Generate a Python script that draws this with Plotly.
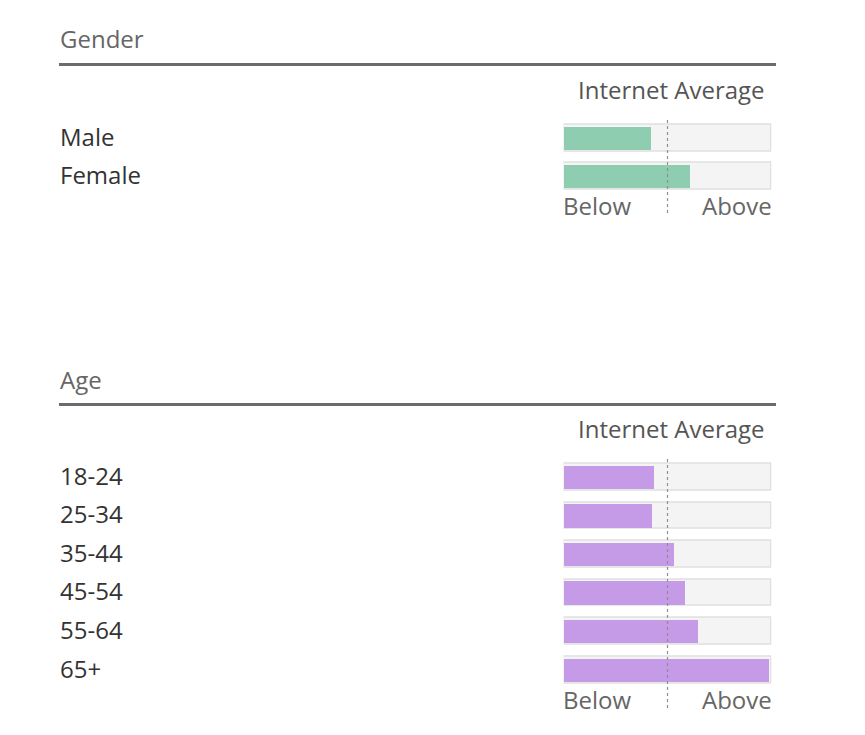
import plotly.graph_objects as go

# ---- data ----
gender_labels = ["Male", "Female"]
gender_values = [84, 121]          # index vs internet average (100 = average)
age_labels = ["18-24", "25-34", "35-44", "45-54", "55-64", "65+"]
age_values = [87, 85, 106, 116, 129, 197]
scale_max = 200
average = 100

W, H = 865, 735
FONT = "Open Sans"
FS = 24
def px(p): return p / W
def py(p): return 1 - p / H

fig = go.Figure()

GREEN = "#8fcdb1"
PURPLE = "#c59be8"
TRACK = "#f4f4f4"
TRACK_LINE = "#e0e0e0"

def add_panel(labels, values, color, xa, ya):
    idx = list(range(len(labels)))
    fig.add_trace(go.Bar(y=idx, x=[scale_max] * len(labels), orientation="h",
                         marker=dict(color=TRACK, line=dict(color=TRACK_LINE, width=1.5)),
                         width=0.69, xaxis=xa, yaxis=ya, hoverinfo="skip", showlegend=False))
    fig.add_trace(go.Bar(y=idx, x=values, orientation="h",
                         marker=dict(color=color, line=dict(width=0)),
                         width=0.61, xaxis=xa, yaxis=ya, hoverinfo="skip", showlegend=False))

add_panel(gender_labels, gender_values, GREEN, "x", "y")
add_panel(age_labels, age_values, PURPLE, "x2", "y2")

ax = dict(range=[0, scale_max], domain=[px(563.5), px(771.5)], visible=False, fixedrange=True)
fig.update_layout(
    width=W, height=H, margin=dict(l=0, r=0, t=0, b=0),
    paper_bgcolor="white", plot_bgcolor="rgba(0,0,0,0)",
    barmode="overlay", bargap=0,
    xaxis=dict(**ax, anchor="y"),
    yaxis=dict(domain=[py(195.75), py(118.75)], range=[1.5, -0.5], visible=False, fixedrange=True, anchor="x"),
    xaxis2=dict(**ax, anchor="y2"),
    yaxis2=dict(domain=[py(689.3), py(457.7)], range=[5.5, -0.5], visible=False, fixedrange=True, anchor="x2"),
    font=dict(family=FONT),
)

shapes = []
annos = []

def panel_deco(title, title_y, rule_y, ia_y, below_y, line_top, line_bot, xref, yref, labels):
    annos.append(dict(text=title, x=px(58), y=py(title_y), xref="paper", yref="paper",
                      xanchor="left", yanchor="middle", showarrow=False,
                      font=dict(size=FS, color="#666666", family=FONT)))
    shapes.append(dict(type="line", xref="paper", yref="paper", x0=px(59), x1=px(776),
                       y0=py(rule_y), y1=py(rule_y), line=dict(color="#6b6b6b", width=3)))
    annos.append(dict(text="Internet Average", x=px(767), y=py(ia_y), xref="paper", yref="paper",
                      xanchor="right", yanchor="middle", showarrow=False,
                      font=dict(size=FS, color="#555555", family=FONT)))
    annos.append(dict(text="Below", x=px(561), y=py(below_y), xref="paper", yref="paper",
                      xanchor="left", yanchor="middle", showarrow=False,
                      font=dict(size=FS, color="#666666", family=FONT)))
    annos.append(dict(text="Above", x=px(774), y=py(below_y), xref="paper", yref="paper",
                      xanchor="right", yanchor="middle", showarrow=False,
                      font=dict(size=FS, color="#666666", family=FONT)))
    shapes.append(dict(type="line", xref=xref, yref="paper", x0=average, x1=average,
                       y0=py(line_bot), y1=py(line_top),
                       line=dict(color="#8f8f8f", width=1.2, dash="dot")))
    for i, lab in enumerate(labels):
        annos.append(dict(text=lab, x=px(58), y=i, xref="paper", yref=yref,
                          xanchor="left", yanchor="middle", showarrow=False, yshift=2,
                          font=dict(size=FS, color="#333333", family=FONT)))

panel_deco("Gender", 39, 64.5, 89, 206, 117, 213, "x", "y", gender_labels)
panel_deco("Age", 379, 404.5, 428, 699, 456, 708, "x2", "y2", age_labels)

fig.update_layout(shapes=shapes, annotations=annos)
fig.write_html("out.html")
